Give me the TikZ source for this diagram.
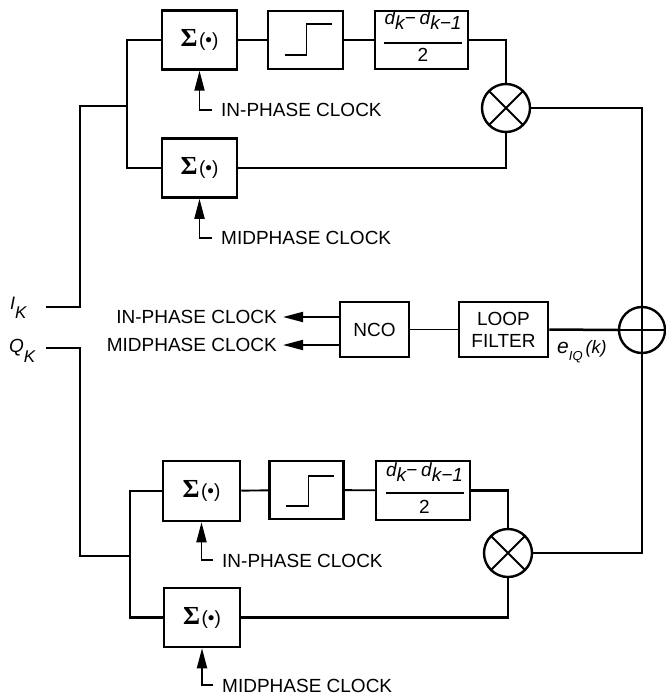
\documentclass[tikz,border=0pt]{standalone}
\usepackage{fontspec}
\setmainfont{Liberation Sans}
\newfontfamily\sigfont{Liberation Serif}
\usetikzlibrary{arrows.meta}
\newcommand\mysum{{\sigfont\bfseries\fontsize{26}{26}\selectfont Σ}\kern1.5pt{\fontsize{19}{19}\selectfont(•)}}
\newcommand\mydk{\itshape d\raisebox{-5pt}{k}−\kern4pt d\raisebox{-5pt}{k−1}}
\begin{document}
\begin{tikzpicture}[x=1pt,y=-1pt,
  every node/.style={font=\fontsize{19}{22}\selectfont, inner sep=0pt},
  box/.style={draw, line width=2.5pt, minimum width=75pt, minimum height=59pt},
  wire/.style={line width=2.5pt},
  thinwire/.style={line width=1.9pt},
  stepline/.style={line width=1.9pt},
  mult/.style={draw, circle, line width=2.4pt, minimum size=48pt,
    path picture={\draw[line width=1.9pt]
      (path picture bounding box.north west) -- (path picture bounding box.south east)
      (path picture bounding box.north east) -- (path picture bounding box.south west);}},
  adder/.style={draw, circle, line width=2.4pt, minimum size=46pt,
    path picture={\draw[line width=1.9pt]
      (path picture bounding box.north) -- (path picture bounding box.south)
      (path picture bounding box.east) -- (path picture bounding box.west);}},
  clk/.style={line width=1.9pt, -{Triangle[length=20pt,width=10pt]}},
  lbl/.style={anchor=base west},
  fr/.style={anchor=base, font=\fontsize{19}{21}\selectfont},
  ]
\useasboundingbox (0,0) rectangle (665,698);

% ---------- top branch ----------
\node[box] (s1) at (199.5,40) {\mysum};
\node[box, minimum height=58pt] (st1) at (305.5,40) {};
\node[box, minimum width=93pt, minimum height=58pt] (f1) at (421.5,40) {};
\node[fr] (f1n) at (423,25) {\mydk};
\node[fr] (f1d) at (423,62) {2};
\coordinate (f1a) at (384,43);
\coordinate (f1b) at (462,43);
\draw[line width=1.6pt] (f1a) -- (f1b);
\draw[stepline] ([shift={(-21,15)}]st1.center) -- ++(22,0) -- ++(0,-31) -- ++(25,0);
\node[mult] (m1) at (506,108) {};
\node[box] (s2) at (199.5,168) {\mysum};

\coordinate (j1) at (127,106);
\draw[wire] (s1.west) -- (s1.west -| j1) -- (s2.west -| j1) -- (s2.west);
\draw[thinwire] (s1) -- (st1);
\draw[thinwire] (st1) -- (f1);
\draw[wire] (f1.east) -| (m1.north);
\draw[wire] (s2.east) -| (m1.south);

\coordinate (c1) at (212,110);
\draw[clk] (c1) -| (s1.south);
\node[lbl] (c1t) at (221,117) {IN-PHASE CLOCK};
\coordinate (c2) at (212,238);
\draw[clk] (c2) -| (s2.south);
\node[lbl] (c2t) at (221,244) {MIDPHASE CLOCK};

% ---------- inputs ----------
\node[lbl] (ik) at (10,309) {\fontsize{18}{18}\selectfont\itshape I\raisebox{-9pt}{\fontsize{17}{17}\selectfont K}};
\node[lbl] (qk) at (9,352) {\fontsize{19}{19}\selectfont\itshape Q\raisebox{-10pt}{\fontsize{17}{17}\selectfont K}};
\coordinate (ikw) at (46,307);
\coordinate (qkw) at (46,348);
\draw[wire] (ikw) -- ++(34,0) |- (j1);

% ---------- middle ----------
\node[box, minimum width=69pt, minimum height=55pt] (nco) at (374.5,329.5) {NCO};
\node[box, minimum width=89pt, minimum height=55pt, align=center] (lf) at (503.5,329.5) {LOOP\\FILTER};
\node[adder] (add) at (642,330) {};
\draw[thinwire] (nco) -- (lf);
\draw[wire] (lf.east) -- (add.west);
\node[lbl] (eiq) at (557,353) {\fontsize{21}{21}\selectfont\itshape e\raisebox{-7pt}{\fontsize{13}{13}\selectfont IQ}\kern3pt{\fontsize{18}{18}\selectfont (k)}};

\coordinate (ta) at (283,317);
\coordinate (tb) at (283,345);
\draw[clk] (ta -| nco.west) -- (ta);
\draw[clk] (tb -| nco.west) -- (tb);
\node[anchor=base east] (tat) at (277,323) {IN-PHASE CLOCK};
\node[anchor=base east] (tbt) at (277,351) {MIDPHASE CLOCK};

% ---------- bottom branch ----------
\node[box, minimum width=77pt, minimum height=60pt] (s3) at (201.5,491) {\mysum};
\node[box, minimum width=74pt, minimum height=58pt] (st3) at (306.5,490) {};
\node[box, minimum width=94pt, minimum height=59pt] (f3) at (423,490.5) {};
\node[fr] (f3n) at (424.5,476) {\mydk};
\node[fr] (f3d) at (424.5,513) {2};
\coordinate (f3a) at (385.5,493);
\coordinate (f3b) at (463.5,493);
\draw[line width=1.6pt] (f3a) -- (f3b);
\draw[stepline] ([shift={(-21,16)}]st3.center) -- ++(23,0) -- ++(0,-30) -- ++(25,0);
\node[mult] (m2) at (508,553) {};
\node[box, minimum width=76pt, minimum height=59pt] (s4) at (202,617.5) {\mysum};

\coordinate (j2) at (130,556);
\draw[wire] (qkw) -- ++(34,0) |- (j2);
\draw[wire] (s3.west) -- (s3.west -| j2) -- (s4.west -| j2) -- (s4.west);
\draw[thinwire] (s3) -- (st3);
\draw[thinwire] (st3) -- (f3);
\draw[wire] (f3.east) -| (m2.north);
\draw[wire] (s4.east) -| (m2.south);

\coordinate (c3) at (213,560);
\draw[clk] (c3) -| (s3.south);
\node[lbl] (c3t) at (222,567) {IN-PHASE CLOCK};
\coordinate (c4) at (213,685);
\draw[clk] (c4) -| (s4.south);
\node[lbl] (c4t) at (222,692) {MIDPHASE CLOCK};

% ---------- right side ----------
\draw[wire] (m1.east) -| (add.north);
\draw[wire] (m2.east) -| (add.south);
\end{tikzpicture}
\end{document}
